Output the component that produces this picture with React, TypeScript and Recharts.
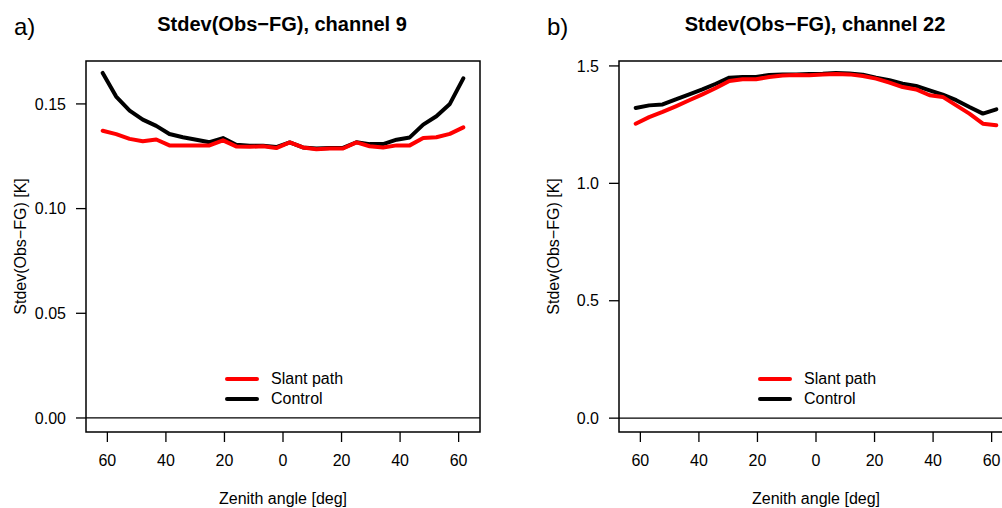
import {
  LineChart,
  Line,
  XAxis,
  YAxis,
  ReferenceLine,
  ReferenceArea,
  Legend,
} from 'recharts'

// zenith angle of each scan bin [deg]
const ZENITH = [
  -61.6, -57.0, -52.4, -47.9, -43.3, -38.8, -34.2, -29.6, -25.1, -20.5, -16.0, -11.4, -6.8, -2.3,
  2.3, 6.8, 11.4, 16.0, 20.5, 25.1, 29.6, 34.2, 38.8, 43.3, 47.9, 52.4, 57.0, 61.6,
]

// channel 9
const CH9_SLANT = [
  0.1372, 0.1356, 0.1333, 0.1322, 0.133, 0.1302, 0.1302, 0.1302, 0.1302, 0.1326, 0.1297, 0.1295, 0.1298, 0.1289,
  0.1316, 0.1292, 0.1284, 0.1287, 0.1287, 0.1316, 0.1298, 0.1292, 0.1302, 0.1302, 0.1337, 0.1341, 0.1357, 0.1388,
]
const CH9_CONTROL = [
  0.1648, 0.1535, 0.1468, 0.1425, 0.1395, 0.1356, 0.1341, 0.1329, 0.1317, 0.1337, 0.1305, 0.13, 0.13, 0.1294,
  0.1316, 0.1292, 0.1287, 0.129, 0.129, 0.1317, 0.1308, 0.1308, 0.1329, 0.134, 0.1401, 0.1441, 0.15, 0.1622,
]

// channel 22
const CH22_SLANT = [
  1.254, 1.282, 1.304, 1.328, 1.354, 1.379, 1.406, 1.436, 1.443, 1.443, 1.453, 1.459, 1.461, 1.46,
  1.463, 1.466, 1.464, 1.457, 1.446, 1.429, 1.41, 1.4, 1.375, 1.368, 1.332, 1.297, 1.254, 1.247,
]
const CH22_CONTROL = [
  1.321, 1.332, 1.336, 1.358, 1.379, 1.4, 1.424, 1.45, 1.453, 1.453, 1.461, 1.464, 1.464, 1.466,
  1.467, 1.47, 1.468, 1.463, 1.45, 1.439, 1.424, 1.415, 1.396, 1.378, 1.354, 1.325, 1.297, 1.315,
]

const X_TICKS = [-60, -40, -20, 0, 20, 40, 60]
const CH9_TICKS = [0, 0.05, 0.1, 0.15]
const CH22_TICKS = [0, 0.5, 1.0, 1.5]

const LEGEND_ITEMS = [
  { label: 'Slant path', color: '#ff0000' },
  { label: 'Control', color: '#000000' },
]

const FONT = '"Liberation Sans", Arial, Helvetica, sans-serif'
const X_DOMAIN: [number, number] = [-67.3, 67.3]

function LegendBox() {
  return (
    <div style={{ fontFamily: FONT, fontSize: 16 }}>
      {LEGEND_ITEMS.map((it) => (
        <div key={it.label} style={{ display: 'flex', alignItems: 'center', height: 20 }}>
          <svg width={46} height={20}>
            <line x1={2} y1={10} x2={32} y2={10} stroke={it.color} strokeWidth={4} strokeLinecap="round" />
          </svg>
          <span>{it.label}</span>
        </div>
      ))}
    </div>
  )
}

interface PanelProps {
  slant: number[]
  control: number[]
  yDomain: [number, number]
  yTicks: number[]
  digits: number
  width: number
  yAxisWidth: number
  rightMargin: number
  yLabelOffset: number
  legendLeft: number
}

function Panel(p: PanelProps) {
  const data = ZENITH.map((z, i) => ({ zenith: z, slant: p.slant[i], control: p.control[i] }))
  const axisColor = '#000'
  return (
    <LineChart
      width={p.width}
      height={508}
      data={data}
      margin={{ top: 61, right: p.rightMargin, bottom: 0, left: 0 }}
    >
      <XAxis
        dataKey="zenith"
        type="number"
        domain={X_DOMAIN}
        ticks={X_TICKS}
        allowDataOverflow
        tickFormatter={(v: number) => String(Math.abs(v))}
        height={76}
        tickSize={10}
        tickMargin={13}
        axisLine={false}
        tickLine={{ stroke: axisColor, strokeWidth: 1.3 }}
        tick={{ fill: '#000', fontSize: 16, fontFamily: FONT }}
        label={{
          value: 'Zenith angle [deg]',
          position: 'insideBottom',
          offset: 4,
          style: { fill: '#000', fontSize: 16, fontFamily: FONT },
        }}
      />
      <YAxis
        type="number"
        domain={p.yDomain}
        ticks={p.yTicks}
        allowDataOverflow
        width={p.yAxisWidth}
        tickFormatter={(v: number) => v.toFixed(p.digits)}
        tickSize={10}
        tickMargin={10}
        axisLine={false}
        tickLine={{ stroke: axisColor, strokeWidth: 1.3 }}
        tick={{ fill: '#000', fontSize: 16, fontFamily: FONT }}
        label={{
          value: 'Stdev(Obs\u2212FG) [K]',
          angle: -90,
          position: 'insideLeft',
          offset: p.yLabelOffset,
          style: { textAnchor: 'middle', fill: '#000', fontSize: 16, fontFamily: FONT },
        }}
      />
      <ReferenceArea
        x1={X_DOMAIN[0]}
        x2={X_DOMAIN[1]}
        y1={p.yDomain[0]}
        y2={p.yDomain[1]}
        fill="none"
        stroke={axisColor}
        strokeWidth={1.5}
      />
      <ReferenceLine y={0} stroke={axisColor} strokeWidth={1.3} />
      <Legend
        layout="vertical"
        align="center"
        verticalAlign="middle"
        content={() => <LegendBox />}
        wrapperStyle={{ left: p.legendLeft, top: 369, width: 200 }}
      />
      <Line
        dataKey="control"
        name="Control"
        stroke="#000000"
        strokeWidth={4}
        strokeLinejoin="round"
        strokeLinecap="round"
        dot={false}
        isAnimationActive={false}
      />
      <Line
        dataKey="slant"
        name="Slant path"
        stroke="#ff0000"
        strokeWidth={4}
        strokeLinejoin="round"
        strokeLinecap="round"
        dot={false}
        isAnimationActive={false}
      />
    </LineChart>
  )
}

export default function App() {
  return (
    <div
      style={{
        position: 'absolute',
        left: 0,
        top: 0,
        width: 1002,
        height: 508,
        overflow: 'hidden',
        background: '#fff',
      }}
    >
      <div style={{ position: 'absolute', left: 0, top: 0 }}>
        <Panel
          slant={CH9_SLANT}
          control={CH9_CONTROL}
          yDomain={[-0.0067, 0.1705]}
          yTicks={CH9_TICKS}
          digits={2}
          width={500}
          yAxisWidth={86}
          rightMargin={20}
          yLabelOffset={20}
          legendLeft={225}
        />
      </div>
      <div style={{ position: 'absolute', left: 500, top: 0 }}>
        <Panel
          slant={CH22_SLANT}
          control={CH22_CONTROL}
          yDomain={[-0.059, 1.521]}
          yTicks={CH22_TICKS}
          digits={1}
          width={540}
          yAxisWidth={119}
          rightMargin={27}
          yLabelOffset={53}
          legendLeft={258}
        />
      </div>
      <svg
        width={1002}
        height={508}
        style={{ position: 'absolute', left: 0, top: 0, pointerEvents: 'none' }}
        fontFamily={FONT}
      >
        <text x={14} y={35} fontSize={24}>a)</text>
        <text x={282} y={31} fontSize={20} fontWeight="bold" textAnchor="middle">
          Stdev(Obs{'\u2212'}FG), channel 9
        </text>
        <text x={547} y={35} fontSize={24}>b)</text>
        <text x={815} y={31} fontSize={20} fontWeight="bold" textAnchor="middle">
          Stdev(Obs{'\u2212'}FG), channel 22
        </text>
      </svg>
    </div>
  )
}
